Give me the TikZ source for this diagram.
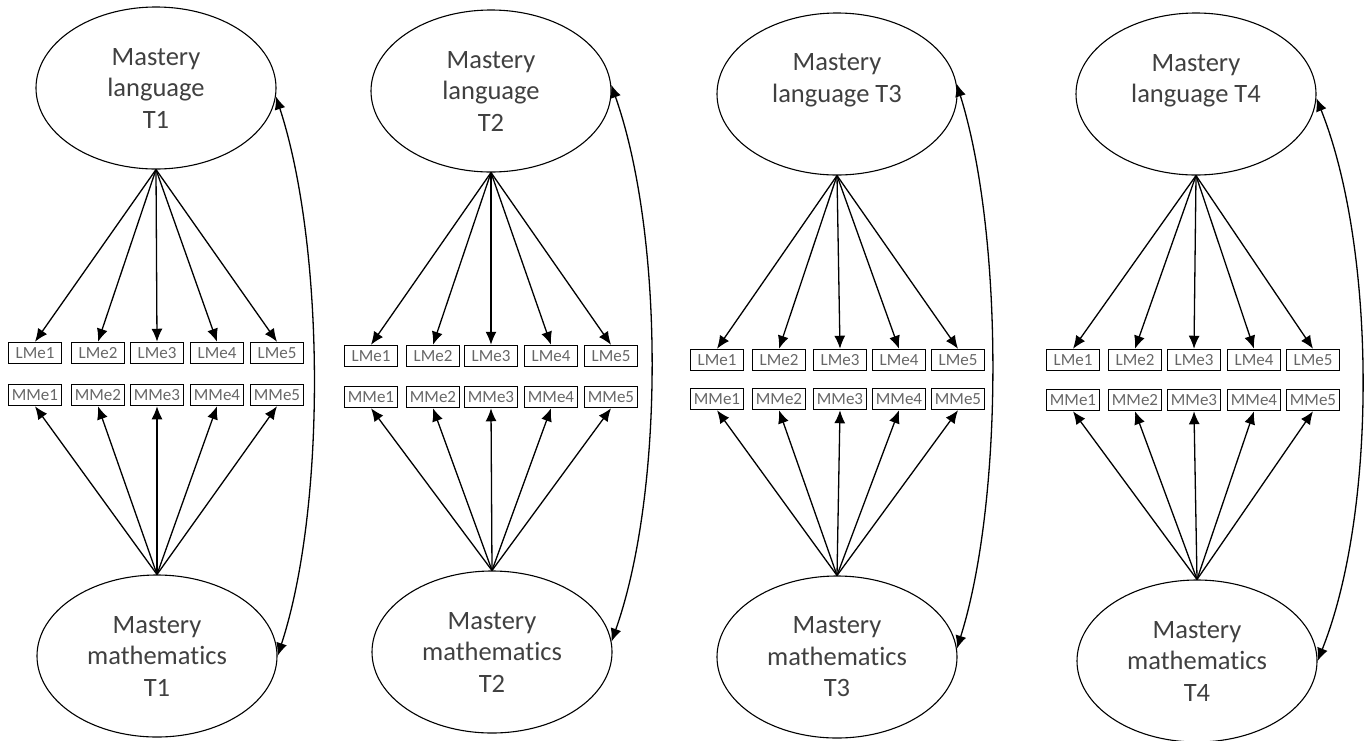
\documentclass[tikz,border=0pt]{standalone}
\usepackage{fontspec}
\setmainfont{Carlito}[Ligatures={NoCommon}]
\usetikzlibrary{shapes.geometric,arrows.meta}
\tikzset{
  lat/.style={ellipse, draw, line width=1.1pt, minimum width=240pt, minimum height=162pt,
    inner sep=0pt, align=center, text=black!75, font=\fontsize{26.5}{31.5}\selectfont},
  ind/.style={draw, line width=1.5pt, minimum width=53pt, minimum height=21pt,
    inner sep=1pt, text=black!60, font=\fontsize{17}{17}\selectfont},
  load/.style={-{Latex[length=13pt,width=11pt]}, line width=1.3pt},
  cov/.style={{Latex[length=13pt,width=11pt]}-{Latex[length=13pt,width=11pt]}, line width=1.3pt},
}
\begin{document}
\begin{tikzpicture}[x=1pt,y=-1pt]
\useasboundingbox (0,0) rectangle (1370,740);
% Panel 1
\node[lat] (L1) at (156,88) {Mastery\\language\\T1};
\node[lat] (M1) at (157,656) {Mastery\\mathematics\\T1};
\foreach \i/\x in {1/35,2/98,3/157,4/217,5/277} {
  \node[ind] (LI1-\i) at (\x,353) {LMe\i};
  \node[ind] (MI1-\i) at (\x,395) {MMe\i};
  \draw[load] (L1.south) -- (LI1-\i.north);
  \draw[load] (M1.north) -- (MI1-\i.south);
}
\draw[cov] (L1.-4) .. controls +(49,150) and +(49,-150) .. (M1.east);
% Panel 2
\node[lat] (L2) at (491,91) {Mastery\\language\\T2};
\node[lat] (M2) at (492,652) {Mastery\\mathematics\\T2};
\foreach \i/\x in {1/371,2/433,3/491,4/551,5/611} {
  \node[ind] (LI2-\i) at (\x,356) {LMe\i};
  \node[ind] (MI2-\i) at (\x,397) {MMe\i};
  \draw[load] (L2.south) -- (LI2-\i.north);
  \draw[load] (M2.north) -- (MI2-\i.south);
}
\draw[cov] (L2.3) .. controls +(53,150) and +(53,-150) .. (M2.5);
% Panel 3
\node[lat] (L3) at (837,94) {Mastery\\language T3\\\phantom{T3}};
\node[lat] (M3) at (837,657) {Mastery\\mathematics\\T3};
\foreach \i/\x in {1/717,2/779,3/840,4/899,5/958} {
  \node[ind] (LI3-\i) at (\x,360) {LMe\i};
  \node[ind] (MI3-\i) at (\x,399) {MMe\i};
  \draw[load] (L3.south) -- (LI3-\i.north);
  \draw[load] (M3.north) -- (MI3-\i.south);
}
\draw[cov] (L3.5) .. controls +(47,150) and +(47,-150) .. (M3.4);
% Panel 4
\node[lat] (L4) at (1196,94) {Mastery\\language T4\\\phantom{T4}};
\node[lat] (M4) at (1197,661) {Mastery\\mathematics\\T4};
\foreach \i/\x in {1/1073,2/1135,3/1194,4/1254,5/1313} {
  \node[ind] (LI4-\i) at (\x,360) {LMe\i};
  \node[ind] (MI4-\i) at (\x,400) {MMe\i};
  \draw[load] (L4.south) -- (LI4-\i.north);
  \draw[load] (M4.north) -- (MI4-\i.south);
}
\draw[cov] (L4.-2) .. controls +(60,150) and +(60,-150) .. (M4.east);
\end{tikzpicture}
\end{document}
